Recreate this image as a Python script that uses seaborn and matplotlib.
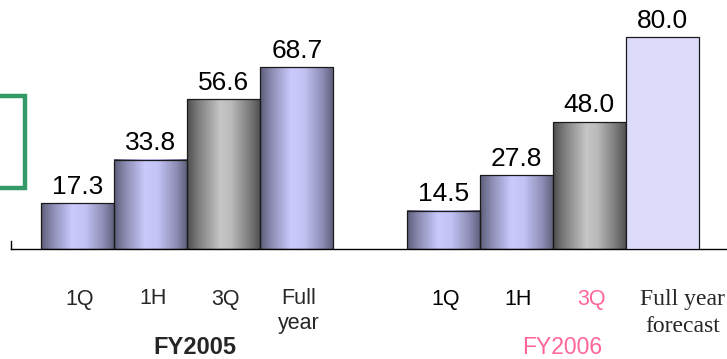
import numpy as np
import pandas as pd
import matplotlib
matplotlib.use("Agg")
import matplotlib.pyplot as plt
import seaborn as sns
from matplotlib.colors import LinearSegmentedColormap
from matplotlib.patches import Rectangle
from matplotlib.transforms import blended_transform_factory

# ---- data -------------------------------------------------------------
periods_2005 = ["1Q", "1H", "3Q", "Full\nyear"]
periods_2006 = ["1Q", "1H", "3Q", "Full year\nforecast"]
values_2005 = [17.3, 33.8, 56.6, 68.7]
values_2006 = [14.5, 27.8, 48.0, 80.0]
group_labels = ["FY2005", "FY2006"]
positions_2005 = [0, 1, 2, 3]
positions_2006 = [5, 6, 7, 8]
styles_2005 = ["blue", "blue", "gray", "blue"]
styles_2006 = ["blue", "blue", "gray", "forecast"]

df = pd.DataFrame({
    "pos": positions_2005 + positions_2006,
    "value": values_2005 + values_2006,
    "style": styles_2005 + styles_2006,
})
style_by_pos = dict(zip(df["pos"], df["style"]))

# ---- styling ----------------------------------------------------------
sns.set_style("white")
plt.rcParams["font.family"] = ["Liberation Sans", "DejaVu Sans"]

PINK = "#ff6699"
GREEN = "#339966"
FORECAST_FILL = "#dcdcfa"

cmaps = {
    "blue": LinearSegmentedColormap.from_list(
        "bluebar",
        [(0.0, "#5c5c78"), (0.15, "#8a8ab0"), (0.42, "#cacafe"),
         (0.6, "#c2c2f4"), (0.85, "#8c8cb4"), (1.0, "#5c5c78")]),
    "gray": LinearSegmentedColormap.from_list(
        "graybar",
        [(0.0, "#4e4e4e"), (0.15, "#7c7c7c"), (0.45, "#c6c6c6"),
         (0.6, "#bababa"), (0.85, "#7a7a7a"), (1.0, "#4e4e4e")]),
}

W, H = 727, 359
fig = plt.figure(figsize=(W / 100, H / 100), dpi=100)
ax = fig.add_axes([11 / W, 110 / H, (W - 11) / W, 249 / H])

sns.barplot(data=df, x="pos", y="value", native_scale=True, width=1.0,
            color=FORECAST_FILL, saturation=1, edgecolor="#1a1a1a",
            linewidth=0.9, errorbar=None, ax=ax)

# shaded cylinder-like fill for the reported periods
grad = np.linspace(0, 1, 256).reshape(1, -1)
for p in ax.patches:
    pos = int(round(p.get_x() + p.get_width() / 2))
    style = style_by_pos[pos]
    p.set_zorder(3)
    if style == "forecast":
        p.set_facecolor(FORECAST_FILL)
        continue
    x0, w, h = p.get_x(), p.get_width(), p.get_height()
    ax.imshow(grad, cmap=cmaps[style], extent=(x0, x0 + w, 0, h),
              aspect="auto", zorder=2, interpolation="bilinear")
    p.set_facecolor("none")

# value labels above each bar
for pos, val in zip(df["pos"], df["value"]):
    ax.annotate(f"{val:.1f}", xy=(pos, val), xytext=(0, 7),
                textcoords="offset points", ha="center", va="baseline",
                fontsize=19, color="black", zorder=5)

# axes frame
px_per_unit = 73.11
ax.set_xlim(-0.5 - 30 / px_per_unit, 8.5 + 28 / px_per_unit)
ax.set_ylim(0, 249 / 2.645)
ax.set_xticks([])
ax.set_yticks([])
ax.set_xlabel("")
ax.set_ylabel("")
for side in ("top", "right"):
    ax.spines[side].set_visible(False)
ax.spines["bottom"].set_color("black")
ax.spines["bottom"].set_linewidth(1.0)
ax.spines["left"].set_color("black")
ax.spines["left"].set_linewidth(1.0)
ax.spines["left"].set_bounds(0, 3)

trans = blended_transform_factory(ax.transData, fig.transFigure)


def fig_y(px):
    """Convert a pixel row (from the top) to a figure fraction."""
    return 1 - px / H


def stacked_label(x, label, first_baseline, line_gap, **kw):
    """Draw a label line by line with a fixed baseline gap in pixels."""
    for i, line in enumerate(label.split("\n")):
        ax.text(x, fig_y(first_baseline + i * line_gap), line,
                transform=trans, ha="center", va="baseline", **kw)


# period labels under the bars
nudge = 0.03
for pos, lab in zip(positions_2005, periods_2005):
    stacked_label(pos + nudge, lab, 304.5, 25, fontsize=15.5)
for pos, lab in zip(positions_2006[:3], periods_2006[:3]):
    stacked_label(pos + nudge, lab, 305, 25, fontsize=15.5,
                  color=PINK if lab == "3Q" else "black")
stacked_label(8.28, periods_2006[3], 305, 26.7, fontsize=17,
              family=["Liberation Serif"])

# fiscal-year group labels
ax.text(1.61, fig_y(354), group_labels[0], transform=trans, ha="center",
        va="baseline", fontsize=17, fontweight="bold")
ax.text(6.63, fig_y(354.5), group_labels[1], transform=trans, ha="center",
        va="baseline", fontsize=16.5, color=PINK)

# green frame at the left margin
fig.add_artist(Rectangle((-10 / W, 1 - 188.5 / H), 34.5 / W, 92 / H,
                         transform=fig.transFigure, fill=False,
                         edgecolor=GREEN, linewidth=3.2))

fig.savefig("out.png", dpi=100)
